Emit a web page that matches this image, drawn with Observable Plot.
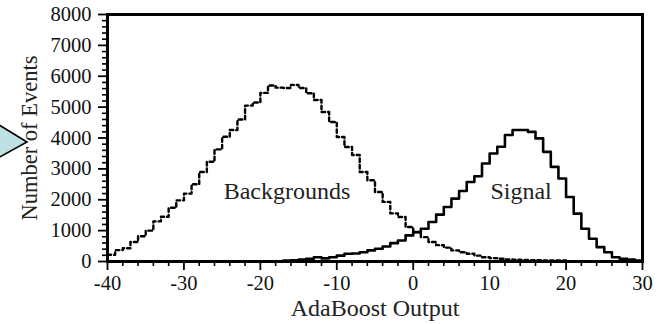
<!DOCTYPE html>
<html>
<head>
<meta charset="utf-8">
<script src="https://cdn.jsdelivr.net/npm/d3@7"></script>
<script src="https://cdn.jsdelivr.net/npm/@observablehq/plot@0.6"></script>
<style>
  html, body { margin: 0; padding: 0; background: #fff; }
  #wrap { position: relative; width: 657px; height: 324px; overflow: hidden; }
  #arrow { position: absolute; left: 0; top: 0; }
</style>
</head>
<body>
<div id="wrap">
  <div id="chart"></div>
  <svg id="arrow" width="60" height="324"><polygon points="-4,123 27,142 -4,159" fill="#bde0e3" stroke="#000" stroke-width="1.6" stroke-linejoin="miter"/></svg>
</div>
<script>
// Bin left edges of the histogram (AdaBoost output)
const binEdges = [-40,-39,-38,-37,-36,-35,-34,-33,-32,-31,-30,-29,-28,-27,-26,-25,-24,-23,-22,-21,
  -20,-19,-18,-17,-16,-15,-14,-13,-12,-11,-10,-9,-8,-7,-6,-5,-4,-3,-2,-1,
  0,1,2,3,4,5,6,7,8,9,10,11,12,13,14,15,16,17,18,19,20,21,22,23,24,25,26,27,28,29];
const binUpperEdge = 30;

// Number of events per bin
const backgrounds = [220,370,430,630,820,1000,1300,1450,1740,1980,2200,2500,2900,3230,3630,4040,4260,4600,5050,5150,
  5460,5700,5630,5620,5720,5620,5450,5230,4840,4520,4030,3710,3450,2900,2630,2250,1930,1560,1440,1115,
  950,790,630,530,450,360,300,250,190,140,110,90,70,60,50,45,40,35,30,30,0,0,0,0,0,0,0,0,0,0];
const signal = [0,0,0,0,0,0,0,0,0,0,0,0,0,0,0,0,0,0,0,0,
  0,0,0,30,40,60,90,140,100,140,190,250,260,300,360,412,487,595,682,845,
  952,1062,1278,1517,1765,2037,2285,2577,2762,3175,3500,3715,4095,4257,4257,4200,3987,3552,3065,2687,
  2090,1550,1062,737,465,302,140,88,65,33];

const yMajor = [0,1000,2000,3000,4000,5000,6000,7000,8000];
const yMinor = [200,400,600,800,1200,1400,1600,1800,2200,2400,2600,2800,3200,3400,3600,3800,4200,4400,4600,4800,5200,5400,5600,5800,6200,6400,6600,6800,7200,7400,7600,7800];
const xMajor = [-40,-30,-20,-10,0,10,20,30];
const xMinor = [-38,-36,-34,-32,-28,-26,-24,-22,-18,-16,-14,-12,-8,-6,-4,-2,2,4,6,8,12,14,16,18,22,24,26,28];

const xTitle = "AdaBoost Output";
const yTitle = "Number of Events";
const annotations = [
  {label: "Backgrounds", x: -24.8, y: 2015},
  {label: "Signal", x: 10.1, y: 2040}
];

function steps(values) {
  const pts = binEdges.map((e, i) => ({x: e, y: values[i]}));
  pts.push({x: binUpperEdge, y: values[values.length - 1]});
  return pts;
}
const bgSteps = steps(backgrounds);
const sigSteps = steps(signal).filter(d => d.x >= -18);

const font = "'Liberation Serif', 'Times New Roman', serif";
const fmt = d => String(d);

const chart = Plot.plot({
  width: 657,
  height: 324,
  marginLeft: 107,
  marginRight: 15,
  marginTop: 14,
  marginBottom: 63,
  style: {fontFamily: font, color: "#000", background: "#fff", overflow: "visible"},
  x: {domain: [-40, 30]},
  y: {domain: [0, 8000]},
  marks: [
    Plot.axisX(xMinor, {tickSize: 5, tickFormat: () => "", label: null, strokeWidth: 1.6}),
    Plot.axisX(xMajor, {tickSize: 9, tickPadding: 5, tickFormat: fmt, fontSize: 20.5, label: null, strokeWidth: 1.8, fill: "#111"}),
    Plot.axisY(yMinor, {tickSize: 5, tickFormat: () => "", label: null, strokeWidth: 1.6}),
    Plot.axisY(yMajor, {tickSize: 9, tickPadding: 7, tickFormat: fmt, fontSize: 20.5, label: null, strokeWidth: 1.8, fill: "#111"}),
    Plot.lineY(bgSteps, {x: "x", y: "y", curve: "step-after", stroke: "#000", strokeWidth: 2.4, strokeDasharray: "3.5,3"}),
    Plot.lineY(sigSteps, {x: "x", y: "y", curve: "step-after", stroke: "#000", strokeWidth: 2.6}),
    Plot.text(annotations, {x: "x", y: "y", text: "label", textAnchor: "start", lineAnchor: "bottom", fontSize: 24, fill: "#222"}),
    Plot.text([xTitle], {frameAnchor: "bottom", dy: 54, lineAnchor: "bottom", fontSize: 24, fill: "#222"}),
    Plot.text([yTitle], {frameAnchor: "left", dx: -78, rotate: -90, textAnchor: "middle", lineAnchor: "middle", fontSize: 22.5, fill: "#222"}),
    Plot.frame({stroke: "#000", strokeWidth: 3})
  ]
});
document.getElementById("chart").appendChild(chart);
</script>
</body>
</html>
